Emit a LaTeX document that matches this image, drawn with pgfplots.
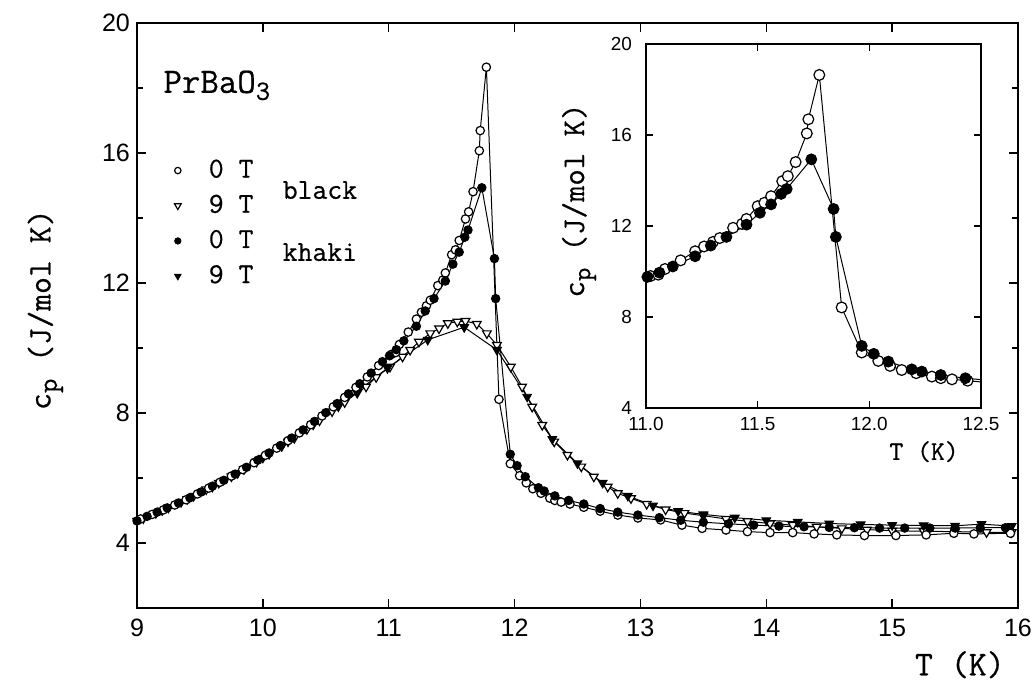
\documentclass[border=0pt]{standalone}
\usepackage{fontspec}
\setsansfont{Liberation Sans}
\setmonofont{Latin Modern Mono}[FakeBold=0.6]
\usepackage{pgfplots}
\usepackage{pgfplotstable}
\pgfplotsset{compat=1.18}

\pgfplotstableread{
x y
9.03 4.74
9.12 4.88
9.21 5.02
9.30 5.17
9.39 5.33
9.48 5.51
9.57 5.69
9.66 5.87
9.75 6.06
9.84 6.26
9.93 6.47
10.02 6.70
10.11 6.92
10.20 7.15
10.29 7.39
10.38 7.64
10.47 7.91
10.56 8.19
10.65 8.48
10.74 8.79
10.83 9.11
10.92 9.46
11.02 9.80
11.055 9.86
11.085 10.11
11.155 10.49
11.22 10.89
11.26 11.10
11.30 11.30
11.33 11.47
11.39 11.92
11.43 12.09
11.45 12.31
11.50 12.87
11.53 13.02
11.56 13.31
11.61 13.97
11.635 14.19
11.67 14.81
11.72 16.07
11.727 16.69
11.776 18.64
11.876 8.42
11.966 6.44
12.04 6.07
12.093 5.85
12.145 5.67
12.21 5.53
12.28 5.38
12.32 5.31
12.37 5.26
12.44 5.20
12.55 5.10
12.68 4.98
12.82 4.86
12.98 4.77
13.16 4.71
13.33 4.55
13.49 4.45
13.68 4.40
13.85 4.35
14.03 4.32
14.21 4.32
14.38 4.28
14.56 4.25
14.78 4.23
15.03 4.23
15.27 4.25
15.49 4.30
15.65 4.28
15.94 4.30
}\blackzero

\pgfplotstableread{
x y
9.00 4.68
9.08 4.82
9.16 4.95
9.24 5.08
9.33 5.23
9.42 5.39
9.51 5.57
9.60 5.75
9.69 5.93
9.78 6.12
9.87 6.33
9.96 6.55
10.05 6.77
10.14 7.00
10.23 7.23
10.32 7.48
10.41 7.74
10.50 8.01
10.59 8.29
10.68 8.59
10.77 8.90
10.86 9.23
10.95 9.58
11.006 9.76
11.06 9.95
11.12 10.22
11.22 10.67
11.29 11.14
11.36 11.52
11.45 12.06
11.51 12.58
11.56 12.95
11.605 13.41
11.63 13.63
11.74 14.93
11.84 12.75
11.85 11.52
11.966 6.73
12.02 6.38
12.085 6.04
12.19 5.70
12.235 5.60
12.32 5.45
12.43 5.31
12.55 5.20
12.68 5.06
12.82 4.95
12.98 4.86
13.15 4.78
13.32 4.70
13.50 4.64
13.70 4.59
13.90 4.55
14.10 4.52
14.30 4.50
14.50 4.48
14.70 4.47
14.90 4.46
15.10 4.46
15.30 4.46
15.50 4.46
15.70 4.47
15.90 4.47
}\khakizero

\pgfplotstableread{
x y
9.05 4.76
9.15 4.92
9.25 5.09
9.35 5.26
9.45 5.45
9.55 5.65
9.65 5.85
9.75 6.05
9.85 6.27
9.95 6.50
10.05 6.74
10.15 6.98
10.25 7.23
10.35 7.50
10.45 7.77
10.55 8.05
10.65 8.33
10.75 8.62
10.82 8.81
10.90 9.10
11.01 9.42
11.11 9.73
11.17 9.94
11.24 10.19
11.33 10.45
11.40 10.60
11.47 10.76
11.545 10.81
11.61 10.83
11.70 10.74
11.78 10.45
11.86 10.09
11.97 9.42
12.06 8.81
12.14 8.19
12.22 7.63
12.315 7.12
12.42 6.71
12.53 6.35
12.63 6.04
12.74 5.73
12.82 5.53
12.925 5.375
13.05 5.20
13.20 5.03
13.35 4.92
13.50 4.84
13.68 4.74
13.85 4.67
14.03 4.60
14.21 4.55
14.40 4.50
14.60 4.45
14.80 4.41
15.00 4.38
15.25 4.36
15.50 4.35
15.75 4.33
15.95 4.33
}\blacknine

\pgfplotstableread{
x y
9.00 4.68
9.20 5.00
9.40 5.35
9.60 5.73
9.80 6.15
10.00 6.62
10.20 7.12
10.40 7.64
10.60 8.20
10.75 8.66
10.99 9.38
11.31 10.25
11.60 10.64
11.86 9.94
12.10 8.50
12.30 7.20
12.50 6.45
12.70 5.85
12.90 5.45
13.10 5.15
13.30 4.98
13.50 4.88
13.75 4.78
14.00 4.70
14.25 4.65
14.50 4.60
14.75 4.57
15.00 4.55
15.25 4.54
15.50 4.53
15.71 4.58
15.95 4.52
}\khakinine

\begin{document}
\begin{tikzpicture}
\useasboundingbox (-68.5bp,-37.5bp) rectangle (449.5bp,304bp);
\begin{axis}[
  at={(0bp,0bp)}, anchor=south west,
  scale only axis, width=440.5bp, height=292.5bp,
  xmin=9, xmax=16, ymin=2, ymax=20,
  xtick={9,10,...,16},
  ytick={4,8,12,16,20},
  minor ytick={2,6,10,14,18},
  tick pos=both, tick align=inside,
  major tick length=4.5bp, minor tick length=3bp,
  axis line style={line width=1bp, black},
  every tick/.style={line width=0.7bp, black},
  /pgf/number format/assume math mode=true,
  ticklabel style={font=\sffamily\fontsize{12.6}{14}\selectfont},
  xticklabel style={yshift=-2bp},
  xlabel={T (K)},
  x label style={at={(axis description cs:0.934,-0.097)}, anchor=center, font=\ttfamily\fontsize{17.5}{20}\selectfont},
  ylabel={c\raisebox{-0.45ex}{\fontsize{14}{15}\selectfont p} (J/mol K)},
  y label style={at={(axis description cs:-0.104,0.51)}, anchor=center, font=\ttfamily\fontsize{16.5}{18}\selectfont},
  legend image code/.code={\draw[#1] plot coordinates {(5bp,0bp)}; \path[draw=none] (0bp,0bp) -- (20bp,0bp);},
  legend style={at={(axis description cs:0.035,0.77)}, anchor=north west, draw=none, fill=none,
    inner sep=0pt, outer sep=0pt, row sep=4.6bp,
    font=\ttfamily\fontsize{14.5}{15}\selectfont,
    nodes={inner sep=0.5bp, text height=9.5bp, text depth=2.5bp}},
  legend cell align=left,
]
\addlegendimage{mark=*, mark size=1.6bp, mark options={fill=white, draw=black, line width=0.6bp}}
\addlegendentry{0 T}
\addlegendimage{mark=triangle*, mark size=1.9bp, mark options={rotate=180, fill=white, draw=black, line width=0.6bp}}
\addlegendentry{9 T}
\addlegendimage{mark=*, mark size=1.6bp, mark options={fill=black, draw=black}}
\addlegendentry{0 T}
\addlegendimage{mark=triangle*, mark size=1.9bp, mark options={rotate=180, fill=black, draw=black}}
\addlegendentry{9 T}

\addplot[forget plot, black, line width=0.5bp, mark=triangle*, mark size=2.5bp, mark options={rotate=180, fill=white, draw=black, line width=0.6bp}] table[x=x,y=y] {\blacknine};
\addplot[forget plot, black, line width=0.5bp, mark=triangle*, mark size=2.5bp, mark options={rotate=180, fill=black, draw=black}] table[x=x,y=y] {\khakinine};
\addplot[forget plot, black, line width=0.5bp, mark=*, mark size=2.1bp, mark options={fill=white, draw=black, line width=0.6bp}] table[x=x,y=y] {\blackzero};
\addplot[forget plot, black, line width=0.5bp, mark=*, mark size=2.1bp, mark options={fill=black, draw=black}] table[x=x,y=y] {\khakizero};

\node[anchor=base west, inner sep=0pt, font=\ttfamily\fontsize{18}{20}\selectfont] at (axis cs:9.207,17.85) {PrBaO\raisebox{-0.45ex}{\fontsize{14}{15}\selectfont 3}};
\node[anchor=west, inner sep=0pt, font=\ttfamily\fontsize{14.5}{15}\selectfont] at (axis cs:10.155,14.86) {black};
\node[anchor=west, inner sep=0pt, font=\ttfamily\fontsize{14.5}{15}\selectfont] at (axis cs:10.155,12.95) {khaki};
\end{axis}

\begin{axis}[
  at={(254.5bp,100bp)}, anchor=south west,
  scale only axis, width=167.5bp, height=182bp,
  xmin=11, xmax=12.5, ymin=4, ymax=20,
  xtick={11,11.5,12,12.5},
  ytick={4,8,12,16,20},
  tick pos=both, tick align=inside,
  major tick length=3.5bp,
  axis background/.style={fill=white},
  axis line style={line width=0.9bp, black},
  every tick/.style={line width=0.6bp, black},
  /pgf/number format/assume math mode=true,
  ticklabel style={font=\sffamily\fontsize{9.5}{11}\selectfont},
  yticklabel style={xshift=-3.5bp},
  xticklabel style={yshift=-1bp, /pgf/number format/.cd, fixed, fixed zerofill, precision=1},
  xlabel={T (K)},
  x label style={at={(axis description cs:0.83,-0.12)}, anchor=center, font=\ttfamily\fontsize{13.5}{15}\selectfont},
  ylabel={c\raisebox{-0.45ex}{\fontsize{13}{14}\selectfont p} (J/mol K)},
  y label style={at={(axis description cs:-0.2,0.57)}, anchor=center, font=\ttfamily\fontsize{16}{18}\selectfont},
]
\addplot[black, line width=0.5bp, mark=*, mark size=2.7bp, mark options={fill=white, draw=black, line width=0.6bp}] table[x=x,y=y] {\blackzero};
\addplot[black, line width=0.5bp, mark=*, mark size=2.7bp, mark options={fill=black, draw=black}] table[x=x,y=y] {\khakizero};
\end{axis}
\end{tikzpicture}
\end{document}
